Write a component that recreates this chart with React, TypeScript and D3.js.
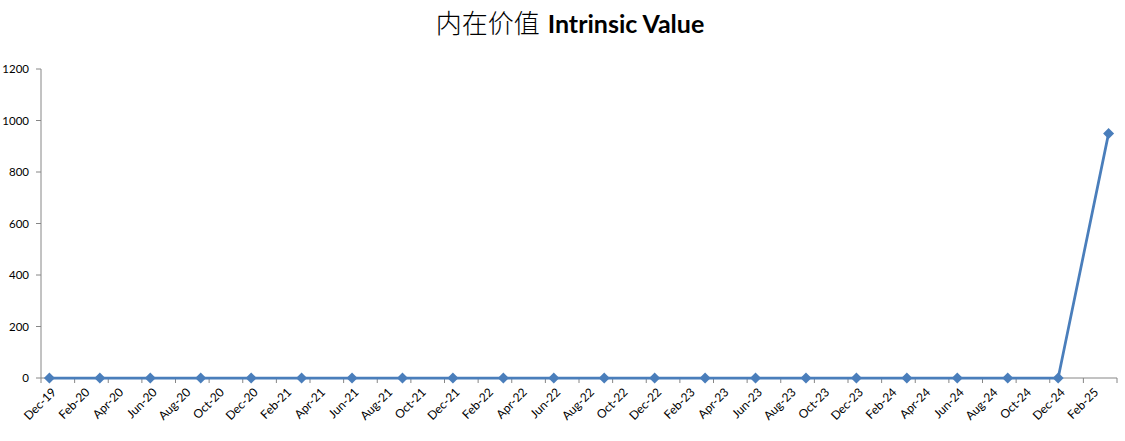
import React from "react";
import * as d3 from "d3";

const pointDates = [
  "Dec-19", "Mar-20", "Jun-20", "Sep-20", "Dec-20", "Mar-21", "Jun-21", "Sep-21",
  "Dec-21", "Mar-22", "Jun-22", "Sep-22", "Dec-22", "Mar-23", "Jun-23", "Sep-23",
  "Dec-23", "Mar-24", "Jun-24", "Sep-24", "Dec-24", "Mar-25",
];
const pointValues = [
  0, 0, 0, 0, 0, 0, 0, 0, 0, 0, 0, 0, 0, 0, 0, 0, 0, 0, 0, 0, 0, 950,
];
const xTickLabels = [
  "Dec-19", "Feb-20", "Apr-20", "Jun-20", "Aug-20", "Oct-20", "Dec-20",
  "Feb-21", "Apr-21", "Jun-21", "Aug-21", "Oct-21", "Dec-21",
  "Feb-22", "Apr-22", "Jun-22", "Aug-22", "Oct-22", "Dec-22",
  "Feb-23", "Apr-23", "Jun-23", "Aug-23", "Oct-23", "Dec-23",
  "Feb-24", "Apr-24", "Jun-24", "Aug-24", "Oct-24", "Dec-24", "Feb-25",
];
const yTicks = [0, 200, 400, 600, 800, 1000, 1200];
const titleCn = "内在价值";
const titleEn = "Intrinsic Value";

const W = 1125;
const H = 441;
const left = 41;
const right = 1117;
const top = 69;
const bottom = 378;

const parse = d3.timeParse("%b-%y");
const monthIndex = (s: string) => {
  const d = parse(s)!;
  return d.getFullYear() * 12 + d.getMonth();
};
const base = monthIndex("Dec-19");
const lastMonth = monthIndex("Mar-25") + 1;

export default function App() {
  const x = d3.scaleLinear().domain([0, lastMonth - base]).range([left, right]);
  const y = d3.scaleLinear().domain([0, 1200]).range([bottom, top]);
  const pts = pointDates.map((d, i) => ({
    x: x(monthIndex(d) - base + 0.5),
    y: y(pointValues[i]),
  }));
  const line = d3
    .line<{ x: number; y: number }>()
    .x((d) => d.x)
    .y((d) => d.y);
  const tickPositions = d3.range(0, lastMonth - base + 1, 2);
  const color = "#4A7EBB";
  const axisColor = "#868686";
  const font = "Lato, 'Open Sans', sans-serif";
  const ms = 5.5;

  return (
    <svg
      width={W}
      height={H}
      style={{ position: "absolute", left: 0, top: 0, background: "#fff" }}
    >
      <text x={570} y={33} textAnchor="middle" fill="#000">
        <tspan fontFamily="'Noto Sans CJK SC'" fontWeight={300} fontSize={26}>{titleCn}</tspan>
        <tspan fontFamily="Lato, sans-serif" fontWeight={700} fontSize={25} dx={8}>
          {titleEn}
        </tspan>
      </text>

      {/* y axis */}
      <line x1={left} x2={left} y1={top} y2={bottom} stroke={axisColor} strokeWidth={1} />
      {yTicks.map((t) => (
        <g key={t}>
          <line x1={left - 5} x2={left} y1={y(t)} y2={y(t)} stroke={axisColor} />
          <text
            x={29}
            y={y(t)}
            dy="0.35em"
            textAnchor="end"
            fontSize={11.5}
            fontFamily={font}
            fill="#000"
          >
            {t}
          </text>
        </g>
      ))}

      {/* x axis */}
      <line x1={left} x2={right} y1={bottom} y2={bottom} stroke={axisColor} strokeWidth={1} />
      {tickPositions.map((m) => (
        <line
          key={m}
          x1={x(m)}
          x2={x(m)}
          y1={bottom}
          y2={bottom + 5}
          stroke={axisColor}
        />
      ))}
      {xTickLabels.map((lab) => {
        const cx = x(monthIndex(lab) - base + 1) - 1;
        const cy = bottom + 15;
        return (
          <text
            key={lab}
            transform={`translate(${cx},${cy}) rotate(-45)`}
            textAnchor="end"
            fontSize={12}
            fontFamily={font}
            fill="#000"
          >
            {lab}
          </text>
        );
      })}

      {/* series */}
      <path d={line(pts) || ""} fill="none" stroke={color} strokeWidth={2.75} strokeLinejoin="round" />
      {pts.map((p, i) => (
        <path
          key={i}
          d={`M${p.x},${p.y - ms}L${p.x + ms},${p.y}L${p.x},${p.y + ms}L${p.x - ms},${p.y}Z`}
          fill={color}
        />
      ))}
    </svg>
  );
}
